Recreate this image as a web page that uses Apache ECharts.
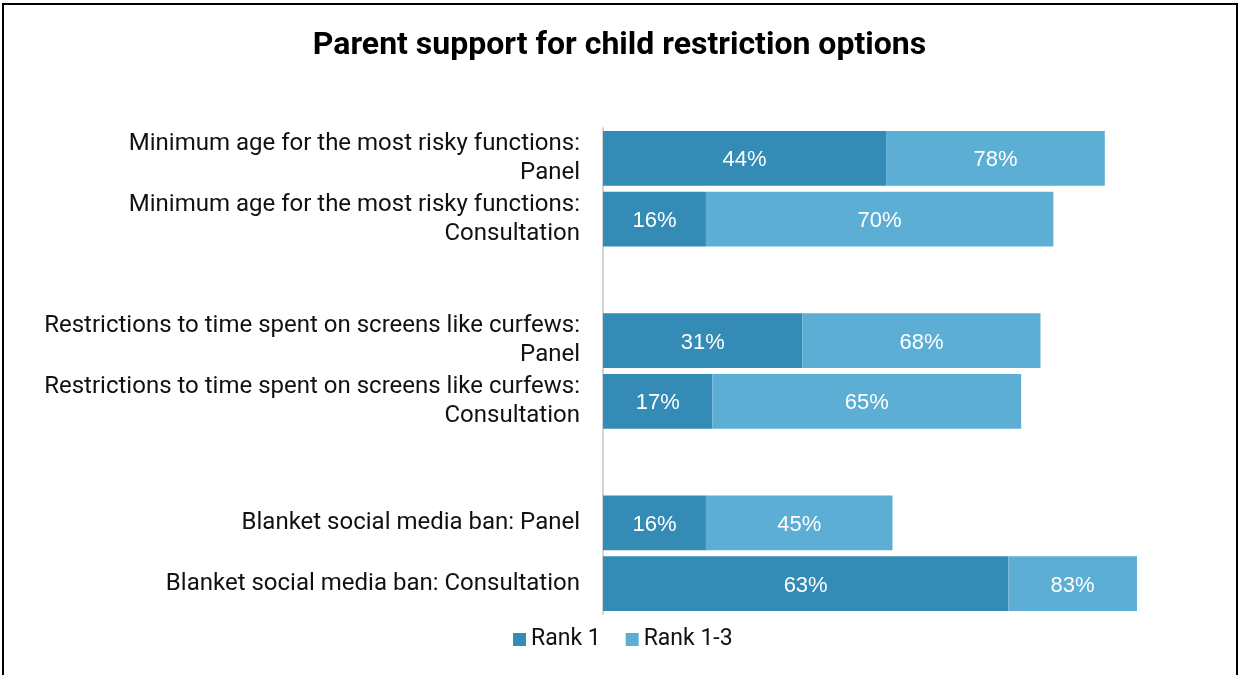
<!DOCTYPE html>
<html>
<head>
<meta charset="utf-8">
<script src="https://cdn.jsdelivr.net/npm/echarts@6/dist/echarts.min.js"></script>
<style>
  html, body { margin: 0; padding: 0; background: #fff; }
  #chart { width: 1239px; height: 675px; }
</style>
</head>
<body>
<div id="chart"></div>
<script>
// Row labels (empty strings leave a spacer row between the groups)
const categories = [
  'Minimum age for the most risky functions:\nPanel',
  'Minimum age for the most risky functions:\nConsultation',
  '',
  'Restrictions to time spent on screens like curfews:\nPanel',
  'Restrictions to time spent on screens like curfews:\nConsultation',
  '',
  'Blanket social media ban: Panel',
  'Blanket social media ban: Consultation'
];
// Share of parents ranking the option first
const rank1 = [44, 16, null, 31, 17, null, 16, 63];
// Share of parents ranking the option in their top three
const rank13 = [78, 70, null, 68, 65, null, 45, 83];

const seriesNames = ['Rank 1', 'Rank 1-3'];
const colors = ['#338bb6', '#5daed4'];

// The lighter segment continues from the end of the Rank 1 segment to the Rank 1-3 total
const rank13Rest = rank13.map((v, i) => (v == null ? null : v - rank1[i]));

const chart = echarts.init(document.getElementById('chart'));

const valueLabel = {
  show: true,
  position: 'inside',
  offset: [0, 2],
  color: '#ffffff',
  fontFamily: 'Liberation Sans, Arial, sans-serif',
  fontSize: 22
};

chart.setOption({
  animation: false,
  title: {
    text: 'Parent support for child restriction options',
    left: 'center',
    top: 25,
    textStyle: {
      fontFamily: 'Roboto',
      fontWeight: 'bold',
      fontSize: 32,
      color: '#000'
    }
  },
  legend: {
    data: seriesNames,
    top: 623,
    left: 508,
    itemWidth: 13,
    itemHeight: 13,
    itemGap: 25,
    icon: 'rect',
    textStyle: { fontFamily: 'Roboto', fontSize: 23, color: '#111' }
  },
  grid: { left: 603, right: 57, top: 128, bottom: 61, containLabel: false },
  xAxis: {
    type: 'value',
    min: 0,
    max: 90,
    show: false
  },
  yAxis: {
    type: 'category',
    data: categories,
    inverse: true,
    axisTick: { show: false },
    axisLine: { show: true, lineStyle: { color: '#d4d4d4', width: 2 } },
    axisLabel: {
      margin: 23,
      color: '#111',
      fontFamily: 'Roboto',
      fontSize: 24,
      lineHeight: 29,
      align: 'right'
    }
  },
  series: [
    {
      name: seriesNames[0],
      type: 'bar',
      stack: 'total',
      data: rank1,
      barCategoryGap: '10%',
      itemStyle: { color: colors[0] },
      label: Object.assign({}, valueLabel, {
        formatter: p => p.value + '%'
      })
    },
    {
      name: seriesNames[1],
      type: 'bar',
      stack: 'total',
      data: rank13Rest,
      barCategoryGap: '10%',
      itemStyle: { color: colors[1] },
      label: Object.assign({}, valueLabel, {
        formatter: p => rank13[p.dataIndex] + '%'
      })
    }
  ],
  graphic: [
    {
      type: 'rect',
      silent: true,
      shape: { x: 3, y: 4, width: 1234, height: 700 },
      style: { fill: 'none', stroke: '#000', lineWidth: 2 }
    }
  ]
});
</script>
</body>
</html>
